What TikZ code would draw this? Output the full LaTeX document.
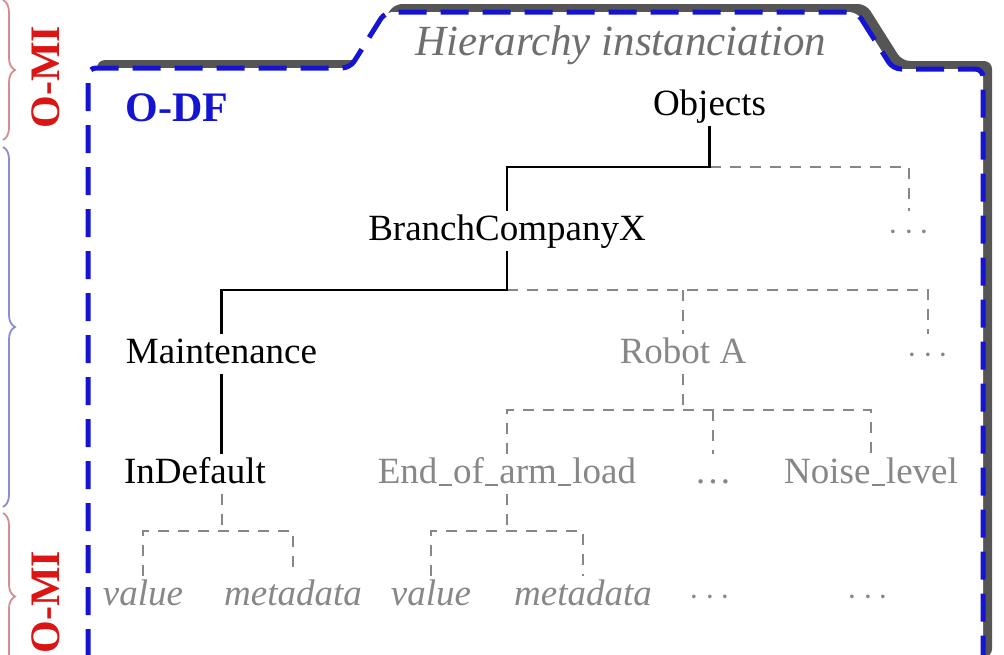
\documentclass[tikz,border=0pt]{standalone}
\usepackage{fontspec}
\setmainfont{Liberation Serif}
\usetikzlibrary{decorations.pathreplacing}

\definecolor{frameblue}{RGB}{20,20,210}
\definecolor{shadowgray}{RGB}{85,85,85}
\definecolor{leafgray}{RGB}{135,135,135}
\definecolor{titlegray}{RGB}{110,110,110}
\definecolor{omired}{RGB}{220,20,20}
\definecolor{bracered}{RGB}{215,140,140}
\definecolor{braceblue}{RGB}{140,140,210}

% narrow low underscore between words
\newcommand\usc{\kern0.03em\rule[-0.08em]{0.36em}{0.05em}\kern0.03em}

\tikzset{
  lbl/.style={font=\fontsize{18.5}{22}\selectfont, text height=12pt, text depth=3pt, inner sep=2.5pt, anchor=base},
  known/.style={lbl, text=black},
  other/.style={lbl, text=leafgray},
  leaf/.style={lbl, text=leafgray, font=\fontsize{18.5}{22}\selectfont\itshape},
  solidedge/.style={draw=black, line width=1.2pt},
  dashedge/.style={draw=leafgray, line width=1pt, dash pattern=on 5.5pt off 4.5pt},
  sidebrace/.style={decorate, decoration={brace, amplitude=6pt}, line width=0.9pt},
  omi/.style={text=omired, font=\fontsize{21}{24}\selectfont\bfseries, rotate=90, inner sep=0pt},
  framepath/.style={rounded corners=4pt},
}

\begin{document}
\begin{tikzpicture}[x=0.5pt,y=-0.5pt]
  \useasboundingbox (0,0) rectangle (1004,654);
  \clip (0,0) rectangle (1004,654);
  \fill[white] (0,0) rectangle (1004,654);

  % folder outline: dark offset shadow, white body, blue dashed border
  \fill[shadowgray, framepath, shift={(9,-8)}]
    (88,665) -- (88,68) -- (350,68) -- (385,12) -- (857,12) -- (893,69) -- (983,69) -- (983,665) -- cycle;
  \filldraw[fill=white, draw=frameblue, line width=2.5pt, dash pattern=on 14pt off 7pt, framepath]
    (88,665) -- (88,68) -- (350,68) -- (385,12) -- (857,12) -- (893,69) -- (983,69) -- (983,665) -- cycle;

  % captions
  \node[anchor=base, text=titlegray, font=\fontsize{21.5}{24}\selectfont\itshape, inner sep=0pt] (title) at (621,55) {Hierarchy instanciation};
  \node[anchor=base west, text=frameblue, font=\fontsize{21}{24}\selectfont\bfseries, inner sep=0pt] (odf) at (125,121) {O-DF};

  % side braces
  \draw[sidebrace, draw=bracered] (3,0) -- (3,140);
  \draw[sidebrace, draw=braceblue] (3,147) -- (3,507);
  \draw[sidebrace, draw=bracered] (3,513) -- (3,680);
  \node[omi] (omitop) at (46,77) {O-MI};
  \node[omi] (omibot) at (46,602) {O-MI};

  % tree nodes
  \node[known] (obj) at (709.5,115) {Objects};
  \node[known] (bcx) at (507,240) {BranchCompanyX};
  \node[other] (dotsA) at (909,240) {$\cdots$};
  \node[known] (mnt) at (221.5,363) {Maintenance};
  \node[other] (robot) at (683,363) {Robot A};
  \node[other] (dotsB) at (928,363) {$\cdots$};
  \node[known] (indef) at (195,483) {InDefault};
  \node[other] (eoal) at (507,483) {End\usc of\usc arm\usc load};
  \node[other] (dotsC) at (713,483) {\ldots};
  \node[other] (noise) at (871,483) {Noise\usc level};
  \node[leaf] (valA) at (143,605) {value};
  \node[leaf] (metaA) at (293,605) {metadata};
  \node[leaf] (valB) at (431,605) {value};
  \node[leaf] (metaB) at (583,605) {metadata};
  \node[other] (dotsD) at (710,605) {$\cdots$};
  \node[other] (dotsE) at (868,605) {$\cdots$};

  % branching levels
  \coordinate (busA) at (0,167);
  \coordinate (busB) at (0,290);
  \coordinate (busC) at (0,410);
  \coordinate (busD) at (0,531);

  % edges
  \draw[dashedge] (obj.south |- busA) -| (dotsA.north);
  \draw[solidedge] (obj.south) -- (obj.south |- busA) -| (bcx.north);

  \draw[dashedge] (bcx.south |- busB) -| (dotsB.north);
  \draw[dashedge] (robot.north |- busB) -- (robot.north);
  \draw[solidedge] (bcx.south) -- (bcx.south |- busB) -| (mnt.north);

  \draw[solidedge] (mnt.south) -- (mnt.south |- indef.north);

  \draw[dashedge] (robot.south) -- (robot.south |- busC);
  \draw[dashedge] (eoal.north) |- (busC -| noise.north) -- (noise.north);
  \draw[dashedge] (dotsC.north |- busC) -- (dotsC.north);

  \draw[dashedge] (indef.south -| mnt.south) -- (busD -| mnt.south);
  \draw[dashedge] (valA.north) |- (busD -| metaA.north) -- (metaA.north);
  \draw[dashedge] (eoal.south) -- (eoal.south |- busD);
  \draw[dashedge] (valB.north) |- (busD -| metaB.north) -- (metaB.north);
\end{tikzpicture}
\end{document}
